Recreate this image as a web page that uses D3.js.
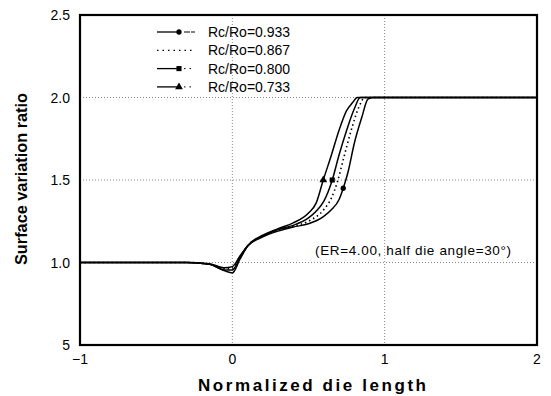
<!DOCTYPE html>
<html>
<head>
<meta charset="utf-8">
<script src="https://cdn.jsdelivr.net/npm/d3@7"></script>
<style>
  body { margin: 0; background: #fff; }
  svg { display: block; font-family: "Liberation Sans", Arial, sans-serif; }
</style>
</head>
<body>
<svg id="chart" width="551" height="396"></svg>
<script>
// series data (normalized die length, surface variation ratio)
const seriesNames = ["Rc/Ro=0.933", "Rc/Ro=0.867", "Rc/Ro=0.800", "Rc/Ro=0.733"];
const rc0933 = [[-1,1],[-0.3,1],[-0.15,0.993],[-0.05,0.968],[0,0.975],[0.05,1.04],[0.1,1.1],[0.2,1.155],[0.3,1.19],[0.4,1.215],[0.5,1.235],[0.6,1.28],[0.65,1.32],[0.7,1.38],[0.728,1.45],[0.76,1.55],[0.8,1.72],[0.85,1.88],[0.89,1.99],[0.92,2],[2,2]];
const rc0867 = [[-1,1],[-0.3,1],[-0.15,0.99],[-0.05,0.962],[0,0.965],[0.05,1.03],[0.1,1.1],[0.2,1.16],[0.3,1.195],[0.4,1.22],[0.5,1.25],[0.6,1.32],[0.65,1.39],[0.69,1.49],[0.73,1.63],[0.78,1.8],[0.83,1.94],[0.87,2],[2,2]];
const rc0800 = [[-1,1],[-0.3,1],[-0.15,0.99],[-0.05,0.955],[0,0.955],[0.05,1.03],[0.1,1.1],[0.2,1.16],[0.3,1.2],[0.4,1.225],[0.5,1.27],[0.55,1.31],[0.6,1.37],[0.656,1.5],[0.7,1.65],[0.75,1.8],[0.8,1.93],[0.84,2],[2,2]];
const rc0733 = [[-1,1],[-0.3,1],[-0.15,0.99],[-0.05,0.95],[0,0.937],[0.05,1.02],[0.1,1.1],[0.2,1.165],[0.3,1.205],[0.4,1.24],[0.5,1.3],[0.55,1.36],[0.597,1.5],[0.65,1.65],[0.7,1.8],[0.75,1.92],[0.79,1.97],[0.82,2],[2,2]];
const markerX = [0.728, null, 0.656, 0.597];
const markerType = ["circle", null, "square", "triangle"];
const xTicks = [-1, 0, 1, 2];
const yTicks = [0.5, 1.0, 1.5, 2.0, 2.5];
const yTickLabels = ["5", "1.0", "1.5", "2.0", "2.5"];

const allSeries = [rc0933, rc0867, rc0800, rc0733];

const svg = d3.select("#chart");
const mLeft = 80, mRight = 537, mTop = 15, mBottom = 345;

const x = d3.scaleLinear().domain([-1, 2]).range([mLeft, mRight]);
const y = d3.scaleLinear().domain([0.5, 2.5]).range([mBottom, mTop]);

// grid
svg.append("g")
  .selectAll("line")
  .data([1.0, 1.5, 2.0])
  .enter().append("line")
  .attr("x1", mLeft).attr("x2", mRight)
  .attr("y1", d => y(d)).attr("y2", d => y(d))
  .attr("stroke", "#888").attr("stroke-width", 1)
  .attr("stroke-dasharray", "1,2");

svg.append("g")
  .selectAll("line")
  .data([0, 1])
  .enter().append("line")
  .attr("x1", d => x(d)).attr("x2", d => x(d))
  .attr("y1", mTop).attr("y2", mBottom)
  .attr("stroke", "#888").attr("stroke-width", 1)
  .attr("stroke-dasharray", "1,2");

// curves
const line = d3.line().x(d => x(d[0])).y(d => y(d[1])).curve(d3.curveMonotoneX);

svg.append("g")
  .selectAll("path")
  .data(allSeries)
  .enter().append("path")
  .attr("d", d => line(d))
  .attr("fill", "none")
  .attr("stroke", "#000")
  .attr("stroke-width", (d, i) => i === 1 ? 1.6 : 1.5)
  .attr("stroke-dasharray", (d, i) => i === 1 ? "1.5,3" : null);

const sym = {
  circle: d3.symbol().type(d3.symbolCircle).size(22),
  square: d3.symbol().type(d3.symbolSquare).size(26),
  triangle: d3.symbol().type(d3.symbolTriangle).size(26)
};

allSeries.forEach((s, i) => {
  if (markerX[i] == null) return;
  const p = s.find(d => d[0] === markerX[i]);
  svg.append("path")
    .attr("d", sym[markerType[i]]())
    .attr("transform", "translate(" + x(p[0]) + "," + y(p[1]) + ")")
    .attr("fill", "#000");
});

// frame
svg.append("rect")
  .attr("x", mLeft).attr("y", mTop)
  .attr("width", mRight - mLeft).attr("height", mBottom - mTop)
  .attr("fill", "none").attr("stroke", "#000").attr("stroke-width", 2.2);

// tick labels
svg.append("g")
  .selectAll("text")
  .data(yTicks)
  .enter().append("text")
  .attr("x", 70).attr("y", d => y(d) + 5)
  .attr("text-anchor", "end")
  .style("font-size", "14px")
  .text((d, i) => yTickLabels[i]);

svg.append("g")
  .selectAll("text")
  .data(xTicks)
  .enter().append("text")
  .attr("x", d => x(d)).attr("y", 364)
  .attr("text-anchor", "middle")
  .style("font-size", "14px")
  .text(d => d < 0 ? "\u2212" + Math.abs(d) : d);

// axis titles
svg.append("text")
  .attr("x", 312).attr("y", 391)
  .attr("text-anchor", "middle")
  .attr("textLength", 228).attr("lengthAdjust", "spacing")
  .style("font-size", "17px").style("font-weight", "bold")
  .text("Normalized die length");

svg.append("text")
  .attr("transform", "translate(27,179) rotate(-90)")
  .attr("text-anchor", "middle")
  .attr("textLength", 172).attr("lengthAdjust", "spacingAndGlyphs")
  .style("font-size", "16px").style("font-weight", "bold")
  .text("Surface variation ratio");

// legend
const legend = svg.append("g");
seriesNames.forEach((name, i) => {
  const ly = 32 + i * 18.3;
  if (i === 1) {
    legend.append("line")
      .attr("x1", 157).attr("x2", 195).attr("y1", ly).attr("y2", ly)
      .attr("stroke", "#000").attr("stroke-width", 1.2).attr("stroke-dasharray", "1.5,4");
  } else {
    legend.append("line")
      .attr("x1", 157).attr("x2", 181).attr("y1", ly).attr("y2", ly)
      .attr("stroke", "#000").attr("stroke-width", 1.3);
    legend.append("line")
      .attr("x1", 184).attr("x2", 195).attr("y1", ly).attr("y2", ly)
      .attr("stroke", "#000").attr("stroke-width", 1)
      .attr("stroke-dasharray", i === 0 ? "6,1" : "1.5,4");
    legend.append("path")
      .attr("d", sym[markerType[i]]())
      .attr("transform", "translate(179," + ly + ")")
      .attr("fill", "#000");
  }
  legend.append("text")
    .attr("x", 208).attr("y", ly + 5)
    .style("font-size", "14px")
    .text(name);
});

// annotation
svg.append("text")
  .attr("x", 315).attr("y", 255)
  .attr("textLength", 196).attr("lengthAdjust", "spacing")
  .style("font-size", "13.5px")
  .text("(ER=4.00, half die angle=30\u00b0)");
</script>
</body>
</html>
